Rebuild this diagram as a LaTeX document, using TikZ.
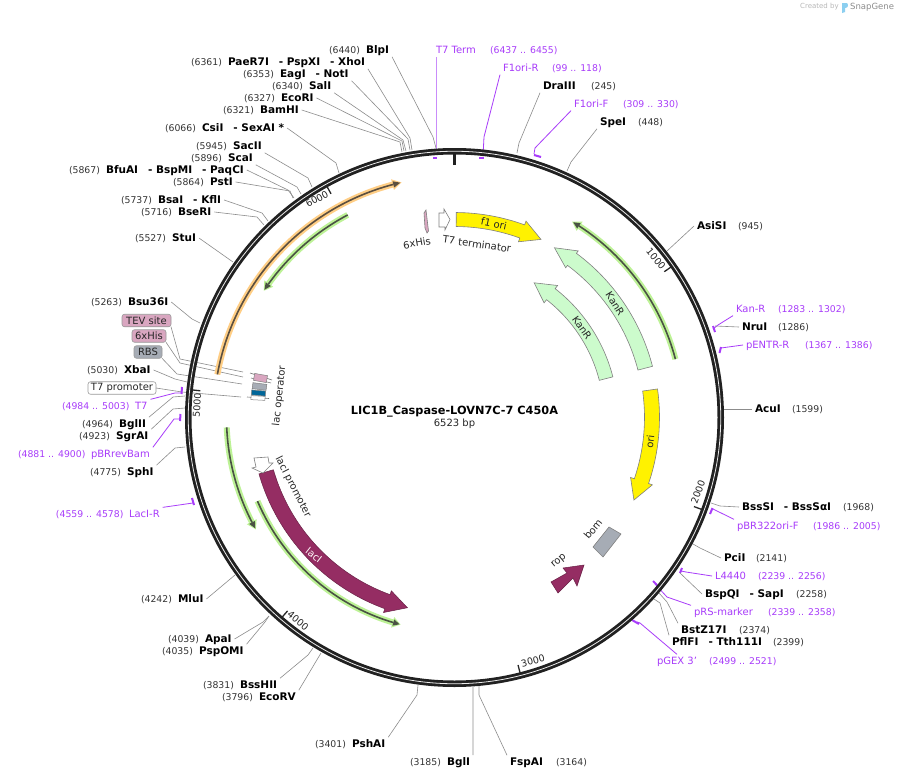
\documentclass[tikz,border=0pt]{standalone}
\usepackage{fontspec}
\setmainfont{DejaVu Sans}
\definecolor{prim}{HTML}{A83CFA}
\definecolor{primlt}{HTML}{C98CFA}
\definecolor{numc}{HTML}{333333}
\definecolor{lacpurple}{HTML}{952D63}
\definecolor{pinkf}{HTML}{D9A6C0}
\definecolor{greyf}{HTML}{A6ACB5}
\definecolor{kanf}{HTML}{CCFBCC}
\definecolor{halog}{HTML}{BDF296}
\definecolor{coreg}{HTML}{4A5244}
\definecolor{haloo}{HTML}{FFCE85}
\definecolor{coreo}{HTML}{5B4F40}
\definecolor{logob}{HTML}{8CCFF0}
\tikzset{
  sitename/.style={font=\fontsize{10.5}{12}\bfseries\selectfont,text=black,inner sep=0pt,outer sep=3pt,text height=7.6pt,text depth=0pt,anchor=west},
  sitepos/.style={font=\fontsize{9.3}{11}\selectfont,text=numc,inner sep=0pt,outer sep=3pt,text height=7pt,text depth=0pt,anchor=west},
  primname/.style={font=\fontsize{10}{12}\selectfont,text=prim,inner sep=0pt,outer sep=3pt,text height=7.3pt,text depth=0pt,anchor=west},
  primpos/.style={font=\fontsize{9.3}{11}\selectfont,text=prim,inner sep=0pt,outer sep=3pt,text height=7pt,text depth=0pt,anchor=west},
  leader/.style={draw=black!45,line width=0.6pt},
  primline/.style={draw=prim,line width=0.8pt},
  primtick/.style={draw=prim,line width=2pt},
  featbox/.style={font=\fontsize{10}{12}\selectfont,text=black!85,rounded corners=2.5pt,draw=black!40,line width=0.6pt,inner sep=0pt,outer sep=0pt,minimum height=12.5pt},
  feat/.style={draw=black!50,line width=0.6pt},
  flabel/.style={font=\fontsize{10}{12}\selectfont,text=black!85,inner sep=0pt},
  ringtick/.style={draw=black!85,line width=1.3pt},
  ticklabel/.style={font=\fontsize{9.5}{11}\selectfont,text=black!85,inner sep=0pt},
}
\newcommand\sitelab[6]{%
  \node[sitepos] (#1-p) at (#2-3,-#3) {#4};
  \node[sitename] (#1) at (#5-3,-#3) {#6};}
\newcommand\primlab[6]{%
  \node[primname] (#1) at (#2-3,-#4) {#5};
  \node[primpos] (#1-p) at (#3-3,-#4) {#6};}
% leader with an elbow
\newcommand\ldr[7][leader]{%
  \coordinate (#2-e) at (#4,-#5);
  \coordinate (#2-r) at (#6,-#7);
  \draw[#1] (#2.#3) -- (#2-e) -- (#2-r);}
% straight leader
\newcommand\lds[5][leader]{%
  \coordinate (#2-r) at (#4,-#5);
  \draw[#1] (#2.#3) -- (#2-r);}
% block arrow on a circle: tail angle, head base angle, tip angle (clockwise from the top), mid radius, half body, half head, style
\newcommand\blockarrow[7]{%
  \draw[#7] ([shift={(c)}]90-#1:#4+#5) arc[start angle=90-#1,end angle=90-#2,radius=#4+#5]
    -- ([shift={(c)}]90-#2:#4+#6) -- ([shift={(c)}]90-#3:#4) -- ([shift={(c)}]90-#2:#4-#6)
    -- ([shift={(c)}]90-#2:#4-#5) arc[start angle=90-#2,end angle=90-#1,radius=#4-#5] -- cycle;}
% thin feature: tail, tip, radius, head length in degrees (signed), halo, core
\newcommand\thinfeat[6]{%
  \draw[#5,line width=6pt] ([shift={(c)}]90-#1:#3) arc[start angle=90-#1,end angle=90-#2+#4,radius=#3];
  \fill[#5] ([shift={(c)}]90-#2:#3) -- ([shift={(c)}]90-#2+1.1*#4:#3+5.5) -- ([shift={(c)}]90-#2+1.1*#4:#3-5.5) -- cycle;
  \draw[#6,line width=1.6pt] ([shift={(c)}]90-#1:#3) arc[start angle=90-#1,end angle=90-#2+#4,radius=#3];
  \fill[#6] ([shift={(c)}]90-#2+0.15*#4:#3) -- ([shift={(c)}]90-#2+#4:#3+3.2) -- ([shift={(c)}]90-#2+#4:#3-3.2) -- cycle;}
\newcommand\ringmark[2]{\draw[#2] ([shift={(c)}]90-#1:255.5) -- ([shift={(c)}]90-#1:264);}
\begin{document}
\begin{tikzpicture}[x=1pt,y=1pt]
\useasboundingbox (0,0) rectangle (898,-779);
\fill[white] (0,0) rectangle (898,-779);
\coordinate (c) at (454.5,-417.5);

% maker's mark
\node[font=\fontsize{7}{8}\selectfont,text=black!28,inner sep=0pt,anchor=west] (mk1) at (800,-7) {Created by};
\fill[logob] (842,-3) -- (847,-3) .. controls (849,-5) and (848,-8) .. (845,-8) -- (845,-12) -- (842,-13) -- cycle;
\node[font=\fontsize{8.5}{9}\selectfont,text=black!45,inner sep=0pt,anchor=west] (mk2) at (850,-7) {SnapGene};

% leaders and labels: top left
\sitelab{blp}{329}{50}{(6440)}{366}{BlpI}
\ldr{blp}{south east}{433}{137}{436}{148}
\sitelab{pae}{191}{62}{(6361)}{228}{PaeR7I\hspace{10pt}- PspXI\hspace{10pt}- XhoI}
\ldr{pae}{south east}{410}{138}{412}{150}
\sitelab{eag}{243}{74}{(6353)}{280}{EagI\hspace{10pt}- NotI}
\ldr{eag}{south east}{408}{139}{410}{150}
\sitelab{sal}{272}{86}{(6340)}{309}{SalI}
\ldr{sal}{south east}{403}{140}{406}{151}
\sitelab{eco}{244}{98}{(6327)}{281}{EcoRI}
\ldr{eco}{east}{402}{141}{404}{151}
\sitelab{bam}{223}{110}{(6321)}{260}{BamHI}
\ldr{bam}{east}{400}{142}{402}{152}
\sitelab{csi}{165}{128}{(6066)}{202}{CsiI\hspace{10pt}- SexAI *}
\ldr{csi}{east}{336}{163}{339}{173}
\sitelab{sac}{196}{146}{(5945)}{233}{SacII}
\ldr{sac}{south east}{308}{178}{312}{187}
\sitelab{sca}{191}{158}{(5896)}{228}{ScaI}
\ldr{sca}{south east}{297}{187}{301}{194}
\sitelab{bfu}{69}{170}{(5867)}{106}{BfuAI\hspace{10pt}- BspMI\hspace{10pt}- PaqCI}
\ldr{bfu}{east}{288}{190}{294}{198}
\sitelab{pst}{173}{182}{(5864)}{210}{PstI}
\ldr{pst}{east}{290}{191}{293}{198}
\sitelab{bsa}{121}{200}{(5737)}{158}{BsaI\hspace{10pt}- KflI}
\ldr{bsa}{east}{262}{213}{268}{221}
\sitelab{bse}{141}{212}{(5716)}{178}{BseRI}
\ldr{bse}{east}{257}{217}{264}{225}
\sitelab{stu}{135}{238}{(5527)}{172}{StuI}
\lds{stu}{east}{233}{262}

% left side
\sitelab{bsu}{91}{302}{(5263)}{128}{Bsu36I}
\ldr{bsu}{east}{192}{319}{200}{323}
\node[featbox,fill=pinkf,minimum width=49pt] (tev) at (146.5,-320.5) {TEV site};
\ldr{tev}{south east}{180}{359}{243}{372}
\node[featbox,fill=pinkf,minimum width=34pt] (his) at (149,-336) {6xHis};
\ldr{his}{south east}{180}{363}{243}{377}
\node[featbox,fill=greyf,minimum width=28pt] (rbs) at (148,-352) {RBS};
\ldr{rbs}{south east}{177}{374}{242}{384}
\sitelab{xba}{87}{370}{(5030)}{124}{XbaI}
\ldr{xba}{east}{175}{379}{187}{382}
\node[featbox,fill=white,minimum width=68pt] (t7p) at (122,-388) {T7 promoter};
\ldr{t7p}{east}{182}{392}{241}{397}
\primlab{t7}{135}{62}{406}{T7}{(4984 .. 5003)}
\ldr[primline]{t7}{north east}{175}{393}{182}{393}
\draw[primtick] (182,-387) -- (181.5,-394);
\sitelab{bgl}{82}{424}{(4964)}{119}{BglII}
\ldr{bgl}{north east}{173}{397}{185}{396}
\sitelab{sgr}{79}{436}{(4923)}{116}{SgrAI}
\ldr{sgr}{north east}{173}{409}{185}{408}
\primlab{pbr}{91}{18}{454}{pBRrevBam}{(4881 .. 4900)}
\ldr[primline]{pbr}{north east}{174}{419}{180}{419}
\draw[primtick] (180.5,-414) -- (180,-421);
\sitelab{sph}{90}{472}{(4775)}{127}{SphI}
\ldr{sph}{north east}{175}{448}{185}{447}
\primlab{lacr}{129}{56}{514}{LacI-R}{(4559 .. 4578)}
\lds[primline]{lacr}{north east}{193}{503}
\draw[primtick] (192,-498) -- (194,-505);

% bottom
\sitelab{mlu}{141}{599}{(4242)}{178}{MluI}
\lds{mlu}{east}{235}{575}
\sitelab{apa}{168}{639}{(4039)}{205}{ApaI}
\ldr{apa}{east}{263}{622}{269}{616}
\sitelab{psp}{162}{651}{(4035)}{199}{PspOMI}
\ldr{psp}{north east}{265}{622}{269}{616}
\sitelab{bss}{203}{685}{(3831)}{240}{BssHII}
\ldr{bss}{north east}{308}{655}{313}{648}
\sitelab{ecv}{222}{697}{(3796)}{259}{EcoRV}
\lds{ecv}{north east}{321}{653}
\sitelab{psh}{315}{744}{(3401)}{352}{PshAI}
\ldr{psh}{north east}{417}{695}{418}{685}
\sitelab{bgi}{410}{762}{(3185)}{447}{BglI}
\lds{bgi}{north east}{473}{687}
\sitelab{fsp}{556}{762}{(3164)}{510}{FspAI}
\ldr{fsp}{north west}{479}{695}{479}{686}

% top right
\primlab{t7t}{436}{490}{50}{T7 Term}{(6437 .. 6455)}
\coordinate (t7t-r) at (436.3,-155);
\draw[primlt,line width=1.3pt] (436.3,-57) -- (t7t-r);
\draw[primtick] (433,-157.5) -- (437,-157.5);
\primlab{fr}{503}{552}{68}{F1ori-R}{(99 .. 118)}
\ldr[primline]{fr}{south west}{484}{137}{483}{156}
\draw[primtick] (479,-157.5) -- (483.5,-157.5);
\sitelab{dra}{591}{86}{(245)}{543}{DraIII}
\ldr{dra}{south west}{519}{143}{517}{153}
\primlab{ff}{574}{623}{104}{F1ori-F}{(309 .. 330)}
\ldr[primline]{ff}{south west}{535}{148}{534}{154}
\draw[primtick] (534,-155) -- (541,-157);
\sitelab{spe}{638}{122}{(448)}{600}{SpeI}
\ldr{spe}{south west}{571}{162}{567}{171}
\sitelab{asi}{738}{226}{(945)}{697}{AsiSI}
\lds{asi}{west}{667}{251}

% right side
\primlab{kr}{736}{778}{309}{Kan-R}{(1283 .. 1302)}
\ldr[primline]{kr}{south west}{718}{325}{713}{329}
\draw[primtick] (713,-326) -- (715,-332);
\sitelab{nru}{778}{327}{(1286)}{742}{NruI}
\lds{nru}{west}{715}{326}
\primlab{pe}{746}{805}{345}{pENTR-R}{(1367 .. 1386)}
\lds[primline]{pe}{west}{721}{348}
\draw[primtick] (721,-347) -- (719.5,-353);
\sitelab{acu}{792}{409}{(1599)}{755}{AcuI}
\lds{acu}{west}{724}{409}
\sitelab{bssi}{843}{507}{(1968)}{742}{BssSI\hspace{10pt}- BssSαI}
\ldr{bssi}{west}{720}{506}{711}{503}
\primlab{pb}{737}{813}{526}{pBR322ori-F}{(1986 .. 2005)}
\lds[primline]{pb}{north west}{713}{509}
\draw[primtick] (712.5,-508) -- (710,-514);
\sitelab{pci}{756}{558}{(2141)}{724}{PciI}
\ldr{pci}{west}{700}{548}{693}{544}
\primlab{l44}{715}{758}{576}{L4440}{(2239 .. 2256)}
\ldr[primline]{l44}{west}{686}{572}{681}{571}
\draw[primtick] (682,-568) -- (680,-573);
\sitelab{bsp}{796}{594}{(2258)}{705}{BspQI\hspace{10pt}- SapI}
\lds{bsp}{west}{680}{573}
\primlab{prs}{694}{768}{612}{pRS-marker}{(2339 .. 2358)}
\ldr[primline]{prs}{north west}{667}{597}{655}{584}
\draw[primtick] (653,-581) -- (657,-585);
\sitelab{bst}{739}{630}{(2374)}{681}{BstZ17I}
\ldr{bst}{north west}{667}{602}{659}{593}
\sitelab{pfl}{773}{642}{(2399)}{672}{PflFI\hspace{10pt}- Tth111I}
\ldr{pfl}{north west}{660}{603}{654}{599}
\primlab{pg}{657}{709}{661}{pGEX 3'}{(2499 .. 2521)}
\ldr[primline]{pg}{north}{640}{623}{637}{622}
\draw[primtick] (632,-620) -- (639,-624);

% ring
\draw[black!87,line width=6.5pt] (c) circle[radius=266.25];
\draw[white!92!black,line width=0.8pt] (c) circle[radius=266.25];
\draw[black!87,line width=3pt] ([shift={(c)}]90:252.5) -- ([shift={(c)}]90:264);
\ringmark{55.2}{ringtick}
\ringmark{110.4}{ringtick}
\ringmark{165.6}{ringtick}
\ringmark{220.8}{ringtick}
\ringmark{276}{ringtick}
\ringmark{331.1}{ringtick}
\node[ticklabel,rotate=-50] (t1) at (656,-259) {1000};
\node[ticklabel,rotate=70] (t2) at (698,-492) {2000};
\node[ticklabel,rotate=15] (t3) at (533,-661) {3000};
\node[ticklabel,rotate=-40] (t4) at (298,-621) {4000};
\node[ticklabel,rotate=86] (t5) at (197,-405) {5000};
\node[ticklabel,rotate=29] (t6) at (317,-199) {6000};

% thin features
\thinfeat{-79.7}{-12.7}{241}{2}{haloo}{coreo}
\thinfeat{-27.8}{-56.4}{229}{-2}{halog}{coreg}
\thinfeat{75.2}{31}{228.5}{-2}{halog}{coreg}
\thinfeat{-92.5}{-119.4}{228}{-2}{halog}{coreg}
\thinfeat{-113}{-165.4}{214}{-2}{halog}{coreg}

% block features
\blockarrow{0.5}{20}{25.9}{198}{7}{11}{feat,fill=yellow}
\blockarrow{75.5}{36.6}{30.5}{197}{7.5}{10.5}{feat,fill=kanf}
\blockarrow{75.6}{38}{30.6}{156.5}{7}{11}{feat,fill=kanf}
\blockarrow{82}{108.8}{114.7}{197.5}{7.5}{11.5}{feat,fill=yellow}
\blockarrow{-106.1}{-160}{-166.1}{196}{7.5}{11.5}{draw=lacpurple!70!black,line width=0.5pt,fill=lacpurple}
\draw[feat,fill=greyf] (609,-527) -- (621,-534) -- (603,-557) -- (593,-547) -- cycle;
\draw[draw=lacpurple!70!black,line width=0.5pt,fill=lacpurple] (551,-582) -- (567,-573) -- (563,-568) -- (584,-565) -- (577,-586) -- (573,-578) -- (558,-593) -- cycle;
\draw[feat,fill=white] (254,-458) -- (268,-457) -- (269,-463) -- (273,-463) -- (263,-473) -- (252,-468) -- (256,-467) -- cycle;
\draw[feat,fill=white] (439,-213) -- (444,-213) -- (444,-209) -- (450,-219.5) -- (445,-230) -- (445,-227) -- (439,-227) -- cycle;
\draw[feat,fill=pinkf] (424,-213) -- (426,-210) -- (428.5,-231) -- (427,-233) -- (425,-228) -- cycle;

% lac operator cluster
\draw[black!55,line width=0.6pt] (250,-373) -- (272,-380) (251,-378) -- (271,-383);
\draw[black!55,line width=0.6pt] (247,-397) -- (269,-398.5);
\node[draw=black!50,line width=0.5pt,fill=pinkf,minimum width=13pt,minimum height=7pt,inner sep=0pt,rotate=-10] (opa) at (260.5,-378) {};
\node[draw=black!50,line width=0.5pt,fill=greyf,minimum width=14pt,minimum height=6pt,inner sep=0pt,rotate=-7] (opb) at (259.5,-386.5) {};
\node[draw=black!50,line width=0.5pt,fill=teal!80!blue,minimum width=14pt,minimum height=5pt,inner sep=0pt,rotate=-5] (opc) at (258.5,-393) {};
\node[draw=black!50,line width=0.5pt,fill=white,minimum width=14pt,minimum height=4pt,inner sep=0pt,rotate=-3] (opd) at (258,-398) {};

% feature labels
\node[flabel,rotate=84] (lop) at (279.5,-396) {lac operator};
\node[flabel,rotate=-63] (lpr) at (293,-487) {lacI promoter};
\node[flabel,rotate=-38,text=white!90!pink] (lci) at (314,-555) {lacI};
\node[flabel,rotate=-58] (kn1) at (615,-304) {KanR};
\node[flabel,rotate=-55] (kn2) at (582,-328) {KanR};
\node[flabel,rotate=83] (ori) at (650,-442) {ori};
\node[flabel,rotate=50] (bom) at (593,-529) {bom};
\node[flabel,rotate=40] (rop) at (559,-561) {rop};
\node[flabel,rotate=-12] (f1o) at (494,-224) {f1 ori};
\node[flabel,rotate=10] (hsl) at (417,-243) {6xHis};
\node[flabel,rotate=-8] (t7l) at (477,-244) {T7 terminator};

% title
\node[font=\fontsize{11.3}{13}\bfseries\selectfont,inner sep=0pt] (ttl) at (454.5,-412) {LIC1B\_Caspase-LOVN7C-7 C450A};
\node[font=\fontsize{10}{12}\selectfont,text=black!85,inner sep=0pt] (bp) at (454.5,-424) {6523 bp};
\end{tikzpicture}
\end{document}
